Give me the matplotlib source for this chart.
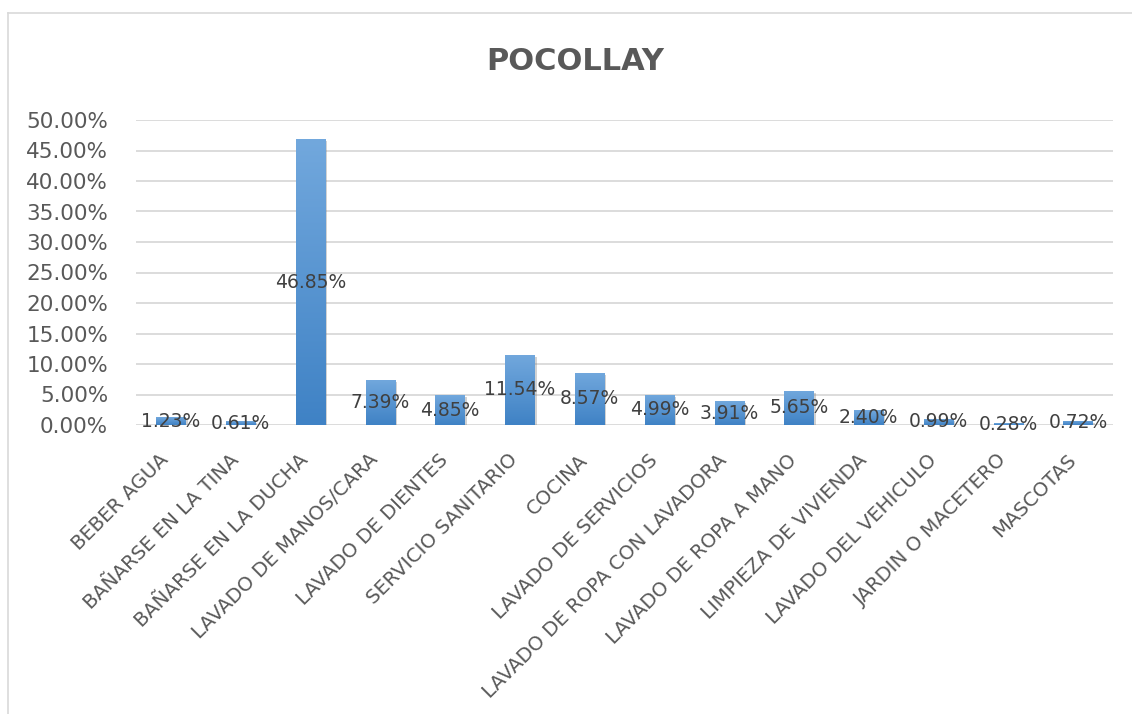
import numpy as np
import matplotlib
matplotlib.use("Agg")
import matplotlib.pyplot as plt
import matplotlib.patheffects as pe
from matplotlib.colors import LinearSegmentedColormap
from matplotlib.lines import Line2D
from matplotlib.ticker import FuncFormatter, MultipleLocator
from matplotlib.transforms import ScaledTranslation

categories = [
    "BEBER AGUA", "BAÑARSE EN LA TINA", "BAÑARSE EN LA DUCHA",
    "LAVADO DE MANOS/CARA", "LAVADO DE DIENTES", "SERVICIO SANITARIO",
    "COCINA", "LAVADO DE SERVICIOS", "LAVADO DE ROPA CON LAVADORA",
    "LAVADO DE ROPA A MANO", "LIMPIEZA DE VIVIENDA", "LAVADO DEL VEHICULO",
    "JARDIN O MACETERO", "MASCOTAS",
]
shares = [1.23, 0.61, 46.85, 7.39, 4.85, 11.54, 8.57, 4.99, 3.91, 5.65,
          2.40, 0.99, 0.28, 0.72]  # percent
title = "POCOLLAY"

plt.rcParams["font.family"] = ["DejaVu Sans"]

W, H = 1132, 714
fig = plt.figure(figsize=(W / 100, H / 100), dpi=100)
ax = fig.add_axes([136 / W, 1 - 425 / H, (1113 - 136) / W, (425 - 120) / H])

# chart frame (only top and left edges show)
fig.add_artist(Line2D([8 / W, 1], [1 - 13 / H, 1 - 13 / H], transform=fig.transFigure,
                      color="#d9d9d9", lw=1.2))
fig.add_artist(Line2D([8 / W, 8 / W], [0, 1 - 13 / H], transform=fig.transFigure,
                      color="#d9d9d9", lw=1.2))

x = np.arange(len(categories))
vals = np.array(shares) / 100
width = 0.42

bars = ax.bar(x, vals, width=width, color="#5b9bd5", zorder=2,
              path_effects=[pe.SimplePatchShadow(offset=(1.5, -1.5), shadow_rgbFace="#7f7f7f",
                                                 alpha=0.35), pe.Normal()])

# vertical gradient fill on every bar
cmap = LinearSegmentedColormap.from_list("bar", ["#3f82c5", "#72a8dd"])
grad = np.linspace(0, 1, 256).reshape(-1, 1)
for b in bars:
    x0, y0 = b.get_x(), b.get_y()
    im = ax.imshow(grad, cmap=cmap, origin="lower", aspect="auto", zorder=3,
                   extent=[x0, x0 + b.get_width(), y0, y0 + b.get_height()])
    im.set_clip_path(b)

for xi, v in zip(x, vals):
    ax.text(xi, v / 2, f"{v * 100:.2f}%", ha="center", va="center",
            fontsize=13.5, color="#404040", zorder=4)

ax.set_xlim(-0.5, len(categories) - 0.5)
ax.set_ylim(0, 0.5)
ax.yaxis.set_major_locator(MultipleLocator(0.05))
ax.yaxis.set_major_formatter(FuncFormatter(lambda v, _: f"{v * 100:.2f}%"))
ax.grid(axis="y", color="#d9d9d9", lw=1.3, zorder=0)
ax.set_axisbelow(True)
for s in ax.spines.values():
    s.set_visible(False)
ax.tick_params(axis="y", length=0, labelsize=15.5, labelcolor="#595959", pad=20)
ax.tick_params(axis="x", length=0, labelsize=14.2, labelcolor="#595959", pad=23)

ax.set_xticks(x)
ax.set_xticklabels(categories, rotation=45, ha="right", va="center",
                   rotation_mode="anchor")
shift = ScaledTranslation(-5 / 100, 0, fig.dpi_scale_trans)
for lab in ax.get_xticklabels():
    lab.set_transform(lab.get_transform() + shift)

fig.text(575 / W, 1 - 62 / H, title, ha="center", va="center", fontsize=22,
         fontweight="bold", color="#595959")

fig.savefig("out.png", dpi=100, facecolor="white")
